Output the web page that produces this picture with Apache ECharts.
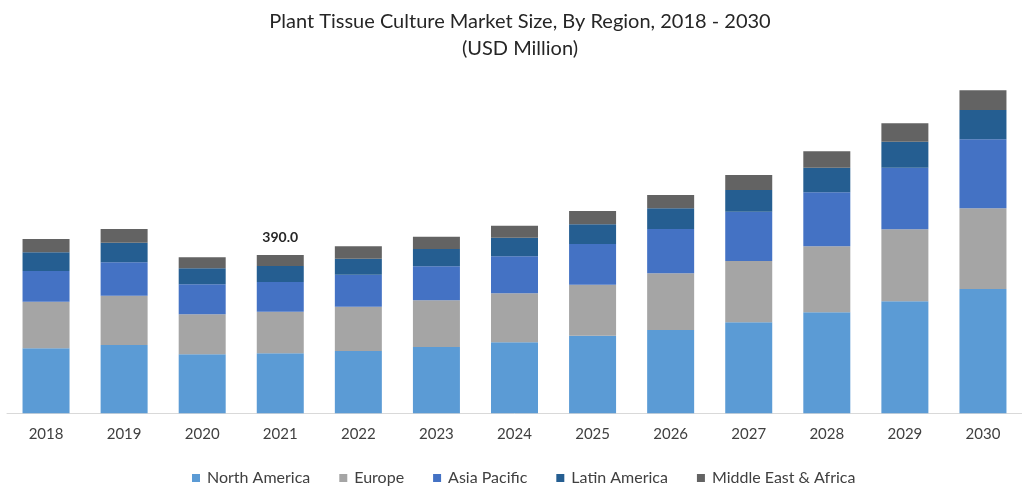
<!DOCTYPE html>
<html>
<head>
<meta charset="utf-8">
<script src="https://cdn.jsdelivr.net/npm/echarts@6/dist/echarts.min.js"></script>
<style>
  html, body { margin: 0; padding: 0; background: #fff; }
  #chart { width: 1022px; height: 489px; }
</style>
</head>
<body>
<div id="chart"></div>
<script>
const years = ['2018','2019','2020','2021','2022','2023','2024','2025','2026','2027','2028','2029','2030'];
const northAmerica = [160.1, 168.3, 145.4, 147.8, 153.5, 163.3, 174.9, 191.2, 205.2, 224.2, 248.8, 275.9, 306.2];
const europe       = [114.8, 121.5,  98.5, 102.5, 109.1, 115.1, 120.7, 125.6, 139.7, 151.0, 162.6, 177.4, 198.8];
const asiaPacific  = [ 75.6,  82.3,  73.9,  73.2,  78.8,  83.8,  91.2, 100.3, 109.1, 121.5, 133.0, 151.8, 170.0];
const latinAmerica = [ 46.1,  48.3,  39.4,  39.4,  39.4,  42.6,  45.8,  48.5,  51.0,  53.5,  60.6,  64.1,  72.2];
const mea          = [ 32.8,  33.8,  27.1,  27.1,  30.5,  30.3,  29.6,  32.8,  32.8,  37.0,  40.4,  45.3,  48.5];
const labelledYear = '2021';

const font = 'Lato, "Liberation Sans", sans-serif';
const totals = years.map((y, i) => northAmerica[i] + europe[i] + asiaPacific[i] + latinAmerica[i] + mea[i]);

const chart = echarts.init(document.getElementById('chart'), null, { renderer: 'canvas' });

function series(name, data, color, extra) {
  return Object.assign({
    name: name,
    type: 'bar',
    stack: 'total',
    barWidth: 47,
    itemStyle: { color: color },
    emphasis: { disabled: true },
    data: data
  }, extra || {});
}

const meaData = mea.map((v, i) => {
  if (years[i] === labelledYear) {
    return {
      value: v,
      label: {
        show: true,
        position: 'top',
        distance: 11,
        formatter: () => totals[i].toFixed(1),
        fontFamily: font,
        fontWeight: 'bold',
        fontSize: 14,
        color: '#262626'
      }
    };
  }
  return v;
});

chart.setOption({
  animation: false,
  backgroundColor: '#ffffff',
  title: {
    text: 'Plant Tissue Culture Market Size, By Region, 2018 - 2030\n(USD Million)',
    left: 515,
    textAlign: 'center',
    top: 3,
    textStyle: {
      fontFamily: font,
      fontSize: 20,
      fontWeight: 'normal',
      color: '#262626',
      lineHeight: 27
    }
  },
  legend: {
    left: 187,
    top: 465,
    itemWidth: 8,
    itemHeight: 8,
    itemGap: 29,
    icon: 'rect',
    textStyle: { fontFamily: font, fontSize: 16, color: '#404040', padding: [0, 0, 0, 2] },
    data: ['North America', 'Europe', 'Asia Pacific', 'Latin America', 'Middle East & Africa']
  },
  grid: { left: 7, width: 1026, top: 88.6, height: 324.7, containLabel: false },
  xAxis: {
    type: 'category',
    data: years,
    axisLine: { show: true, lineStyle: { color: '#d9d9d9', width: 1 } },
    axisTick: { show: false },
    axisLabel: { fontFamily: font, fontSize: 15, color: '#404040', margin: 13 }
  },
  yAxis: {
    type: 'value',
    min: 0,
    max: 800,
    show: false,
    splitLine: { show: false }
  },
  series: [
    series('North America', northAmerica, '#5b9bd5'),
    series('Europe', europe, '#a5a5a5'),
    series('Asia Pacific', asiaPacific, '#4472c4'),
    series('Latin America', latinAmerica, '#255e91'),
    series('Middle East & Africa', meaData, '#636363')
  ]
});
</script>
</body>
</html>
